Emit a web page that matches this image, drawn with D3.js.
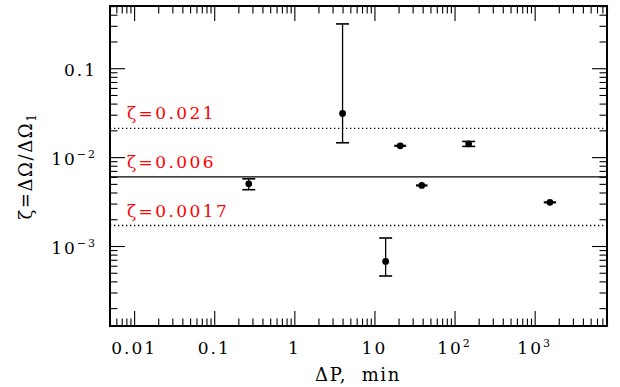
<!DOCTYPE html>
<html><head><meta charset="utf-8">
<script src="https://cdn.jsdelivr.net/npm/d3@7"></script>
<style>
body{margin:0;background:#fff;}
svg{display:block;}
text{font-family:"DejaVu Serif",serif;}
</style></head>
<body>
<svg id="chart" width="620" height="387"></svg>
<script>
// ---- data ----
const deltaP   = [0.27, 4.0, 13.8, 21, 39, 150, 1550];
const zeta     = [0.0050, 0.031, 0.00067, 0.0134, 0.0048, 0.0141, 0.0031];
const zetaLo   = [0.0043, 0.0145, 0.00046, null, null, 0.0132, null];
const zetaHi   = [0.0057, 0.315, 0.00123, null, null, 0.0150, null];
const deltaPLo = [null, null, null, 17.7, 33, null, 1300];
const deltaPHi = [null, null, null, 24.9, 46, null, 1850];
const refLevels = [0.021, 0.006, 0.0017];
const refLabels = ["ζ=0.021", "ζ=0.006", "ζ=0.0017"];
const refDashed = [true, false, true];
const xMajor = [0.01, 0.1, 1, 10, 100, 1000];
const xMajorLabels = [["0.01",""],["0.1",""],["1",""],["10",""],["10","2"],["10","3"]];
const yMajor = [0.001, 0.01, 0.1];
const yMajorLabels = [["10","−3"],["10","−2"],["0.1",""]];
const xDomain = [0.005, 8000];
const yDomain = [Math.pow(10,-3.9), Math.pow(10,-0.3)];

// ---- layout ----
const L = 110, R = 607, T = 6, B = 326;
const svg = d3.select("#chart");
const x = d3.scaleLog().domain(xDomain).range([L, R]);
const y = d3.scaleLog().domain(yDomain).range([B, T]);

function minorTicks(dom){
  const out=[];
  const a=Math.floor(Math.log10(dom[0])), b=Math.ceil(Math.log10(dom[1]));
  for(let e=a;e<=b;e++) for(let m=2;m<=9;m++){
    const v=m*Math.pow(10,e);
    if(v>=dom[0]&&v<=dom[1]) out.push(v);
  }
  return out;
}
const xMinor = minorTicks(xDomain), yMinor = minorTicks(yDomain);

function drawAxis(axisFn, scale, vals, size, tr){
  const g = svg.append("g").attr("transform", tr)
    .call(axisFn(scale).tickValues(vals).tickSize(size).tickFormat(""));
  g.select(".domain").remove();
  g.selectAll(".tick line").attr("stroke","#000").attr("stroke-width",1.1);
}
drawAxis(d3.axisBottom, x, xMajor, -15, `translate(0,${B})`);
drawAxis(d3.axisBottom, x, xMinor, -7.5, `translate(0,${B})`);
drawAxis(d3.axisTop, x, xMajor, -15, `translate(0,${T})`);
drawAxis(d3.axisTop, x, xMinor, -7.5, `translate(0,${T})`);
drawAxis(d3.axisLeft, y, yMajor, -15, `translate(${L},0)`);
drawAxis(d3.axisLeft, y, yMinor, -7.5, `translate(${L},0)`);
drawAxis(d3.axisRight, y, yMajor, -15, `translate(${R},0)`);
drawAxis(d3.axisRight, y, yMinor, -7.5, `translate(${R},0)`);

// reference lines
refLevels.forEach((v,i)=>{
  svg.append("line").attr("x1",L).attr("x2",R).attr("y1",y(v)).attr("y2",y(v))
    .attr("stroke","#000").attr("stroke-width",1.3)
    .attr("stroke-dasharray",refDashed[i]?"1.3,2.7":null);
  svg.append("text").attr("x",127).attr("y",y(v)-9)
    .attr("fill","#ff0000").attr("font-size",17).attr("letter-spacing","2.4px")
    .text(refLabels[i]);
});

// frame
svg.append("rect").attr("x",L).attr("y",T).attr("width",R-L).attr("height",B-T)
  .attr("fill","none").attr("stroke","#000").attr("stroke-width",2);

// tick labels
function labelText(sel, parts){
  sel.append("tspan").text(parts[0]);
  if(parts[1]) sel.append("tspan").attr("dy",-7).attr("font-size",11).text(parts[1]);
}
xMajor.forEach((v,i)=>{
  const t=svg.append("text").attr("x",x(v)).attr("y",354).attr("text-anchor","middle")
    .attr("font-size",17).attr("letter-spacing","2px");
  labelText(t, xMajorLabels[i]);
});
yMajor.forEach((v,i)=>{
  const t=svg.append("text").attr("x",97).attr("y",y(v)+8).attr("text-anchor","end")
    .attr("font-size",17).attr("letter-spacing","2px");
  labelText(t, yMajorLabels[i]);
});

// axis titles
svg.append("text").attr("x",358).attr("y",381).attr("text-anchor","middle")
  .attr("font-size",18).attr("letter-spacing","1.6px").attr("xml:space","preserve")
  .text("ΔP,  min");
const yt = svg.append("text").attr("transform","translate(32,166) rotate(-90)")
  .attr("text-anchor","middle").attr("font-size",18).attr("letter-spacing","1.6px");
yt.append("tspan").text("ζ=ΔΩ/ΔΩ");
yt.append("tspan").attr("dy",4).attr("font-size",12).text("1");

// error bars
const cap = 6.5;
const eg = svg.append("g").attr("stroke","#000").attr("stroke-width",1.3);
deltaP.forEach((d,i)=>{
  const cx=x(d);
  if(zetaLo[i]!=null){
    eg.append("line").attr("x1",cx).attr("x2",cx).attr("y1",y(zetaLo[i])).attr("y2",y(zetaHi[i]));
    [zetaLo[i],zetaHi[i]].forEach(v=>eg.append("line").attr("x1",cx-cap).attr("x2",cx+cap).attr("y1",y(v)).attr("y2",y(v)).attr("stroke-width",1.6));
  }
  if(deltaPLo[i]!=null){
    eg.append("line").attr("x1",x(deltaPLo[i])).attr("x2",x(deltaPHi[i])).attr("y1",y(zeta[i])).attr("y2",y(zeta[i])).attr("stroke-width",2.2);
  }
});
// points
svg.append("g").selectAll("circle").data(deltaP).join("circle")
  .attr("cx",d=>x(d)).attr("cy",(d,i)=>y(zeta[i])).attr("r",3.4).attr("fill","#000");
</script>
</body></html>
